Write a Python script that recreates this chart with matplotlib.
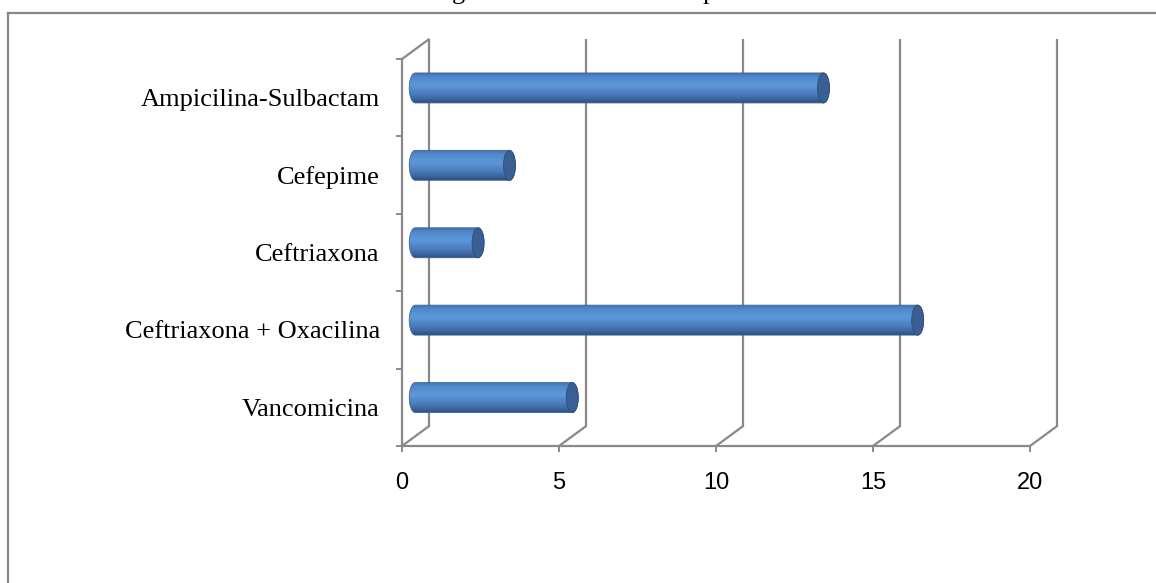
import numpy as np
import matplotlib
matplotlib.use('Agg')
import matplotlib.pyplot as plt
from matplotlib.patches import Ellipse, PathPatch
from matplotlib.path import Path
from matplotlib.colors import LinearSegmentedColormap
from matplotlib.lines import Line2D

# data (top to bottom as shown)
categories = ['Ampicilina-Sulbactam', 'Cefepime', 'Ceftriaxona',
              'Ceftriaxona + Oxacilina', 'Vancomicina']
values = [13, 3, 2, 16, 5]
xticks = [0, 5, 10, 15, 20]

W, H = 1156, 583
GRAY = '#898989'

fig = plt.figure(figsize=(W / 100, H / 100), dpi=100)
fig.patch.set_facecolor('white')

# front plane of the 3d box, in pixels
ax_l, ax_r, ax_t, ax_b = 402, 1030, 59, 446
ax = fig.add_axes([ax_l / W, (H - ax_b) / H, (ax_r - ax_l) / W, (ax_b - ax_t) / H])
ax.set_xlim(0, 20)
ax.set_ylim(len(categories) - 0.5, -0.5)

# depth offset of back wall (pixels -> data units)
px_x = (ax_r - ax_l) / 20.0
px_y = (ax_b - ax_t) / len(categories)
ddx = 26.5 / px_x
ddy = 19.5 / px_y
y_lo, y_hi = -0.5, len(categories) - 0.5

# back wall gridlines and floor diagonals
for x in xticks:
    ax.plot([x + ddx, x + ddx], [y_hi - ddy, y_lo - ddy], color=GRAY, lw=1.6,
            clip_on=False, zorder=1, solid_capstyle='butt')
    ax.plot([x, x + ddx], [y_hi, y_hi - ddy], color=GRAY, lw=1.6,
            clip_on=False, zorder=1)
ax.plot([0, ddx], [y_lo, y_lo - ddy], color=GRAY, lw=1.6, clip_on=False, zorder=1)

# cylinders
cmap = LinearSegmentedColormap.from_list(
    'cyl', [(0.0, '#4373b3'), (0.12, '#5088c9'), (0.4, '#5e98da'),
            (0.7, '#4a7cbd'), (0.9, '#3a6299'), (1.0, '#2d4f80')])
grad = np.linspace(0, 1, 64).reshape(-1, 1)
bar_h = 30 / px_y
a = 6 / px_x
b = bar_h / 2
t_left = np.linspace(np.pi / 2, 3 * np.pi / 2, 40)
t_right = np.linspace(-np.pi / 2, np.pi / 2, 40)
for i, v in enumerate(values):
    xc = ddx / 2
    yc = i - ddy / 2
    xs = np.concatenate([xc + a * np.cos(t_left), xc + v + a * np.cos(t_right)])
    ys = np.concatenate([yc - b * np.sin(t_left), yc - b * np.sin(t_right)])
    verts = np.column_stack([xs, ys])
    clip = PathPatch(Path(np.vstack([verts, verts[:1]]), closed=True),
                     facecolor='none', edgecolor='none', transform=ax.transData)
    ax.add_patch(clip)
    im = ax.imshow(grad, cmap=cmap, aspect='auto', interpolation='bilinear',
                   extent=(xc - a, xc + v + a, yc + b, yc - b), zorder=3)
    im.set_clip_path(clip)
    ax.add_patch(PathPatch(Path(np.vstack([verts, verts[:1]]), closed=True),
                           facecolor='none', edgecolor='#3d659c', lw=0.6, zorder=4))
    ax.add_patch(Ellipse((xc + v, yc), 2 * a, bar_h, facecolor='#3a5f92',
                         edgecolor='#2f4f7d', lw=0.6, zorder=5))

ax.set_xlim(0, 20)
ax.set_ylim(y_hi, y_lo)
ax.set_aspect('auto')
ax.set_facecolor('none')

# axes styling
for s in ['top', 'right']:
    ax.spines[s].set_visible(False)
for s in ['left', 'bottom']:
    ax.spines[s].set_color(GRAY)
    ax.spines[s].set_linewidth(1.6)

ax.set_xticks(xticks)
ax.set_xticklabels([str(x) for x in xticks], fontfamily='Liberation Sans', fontsize=17)
ax.tick_params(axis='x', which='major', length=4.5, width=1.4, color=GRAY, pad=14)

ax.set_yticks(np.arange(-0.5, len(categories) + 0.5, 1.0))
ax.set_yticklabels([])
ax.set_yticks(range(len(categories)), minor=True)
ax.set_yticklabels(categories, minor=True, fontfamily='Liberation Serif', fontsize=19)
ax.tick_params(axis='y', which='minor', length=0, pad=16)
ax.tick_params(axis='y', which='major', length=4.5, width=1.4, color=GRAY)

# outer frame of the chart area
fig.add_artist(Line2D([8 / W, 8 / W], [0, (H - 13) / H], color='#878787', lw=1.6))
fig.add_artist(Line2D([8 / W, 1], [(H - 13) / H, (H - 13) / H], color='#878787', lw=1.6))

# cut-off title fragments at the very top (only descenders visible)
fig.text(452 / W, 1 + 1.5 / H, 'g', fontfamily='Liberation Serif', fontsize=19,
         va='baseline', ha='left')
fig.text(703 / W, 1 + 1.5 / H, 'p', fontfamily='Liberation Serif', fontsize=19,
         va='baseline', ha='left')

fig.savefig('out.png', dpi=100)
